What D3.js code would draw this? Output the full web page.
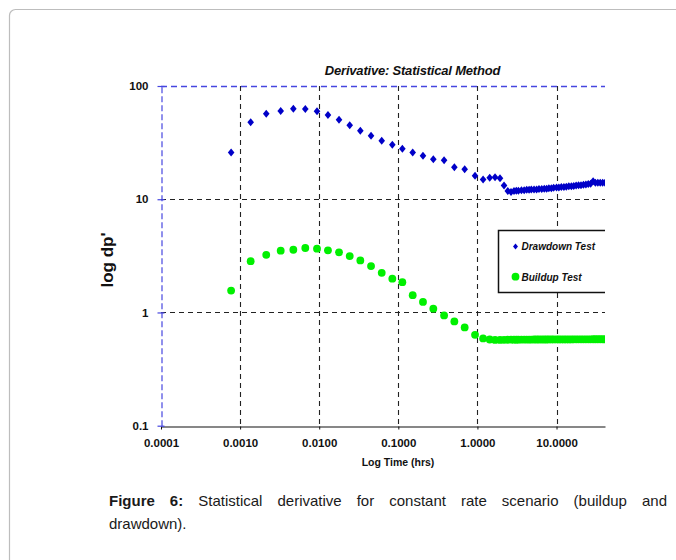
<!DOCTYPE html>
<html>
<head>
<meta charset="utf-8">
<script src="https://cdn.jsdelivr.net/npm/d3@7"></script>
<style>
  html, body { margin: 0; padding: 0; background: #fff; }
  svg { display: block; }
  text { font-family: "Liberation Sans", Arial, sans-serif; }
</style>
</head>
<body>
<svg id="chart" width="676" height="560"></svg>
<script>
// ---- data ----
const chartTitle = "Derivative: Statistical Method";
const xAxisTitle = "Log Time (hrs)";
const yAxisTitle = "log dp'";

// elapsed time (hrs) of each derivative sample
const timeHrs = [
  0.00077, 0.00136, 0.00214, 0.00326, 0.00471, 0.00667, 0.00938, 0.0129, 0.0178, 0.0243,
  0.0331, 0.0452, 0.0617, 0.084, 0.1125, 0.152, 0.205, 0.277, 0.379, 0.511,
  0.69, 0.933, 1.18, 1.43, 1.67, 1.93, 2.17, 2.42, 2.66,
  2.9, 3.1, 3.3, 3.6, 3.9, 4.2, 4.5, 4.8, 5.2, 5.6,
  6.0, 6.5, 7.0, 7.5, 8.0, 8.6, 9.2, 10, 10.7, 11.5,
  12.4, 13.3, 14.3, 15.4, 16.5, 17.7, 19, 20.4, 21.9, 23.5,
  25.2, 27, 29, 31, 33.3, 35.7, 38.3, 41
];

// pressure derivative, drawdown test
const drawdownDeriv = [
  25.9, 47.8, 56.9, 60.1, 63.0, 62.6, 59.7, 55.4, 50.4, 45.0,
  40.3, 36.4, 32.9, 30.3, 27.9, 25.9, 24.2, 22.5, 22.1, 19.2,
  18.4, 16.1, 14.9, 15.5, 15.6, 15.3, 13.2, 11.8, 11.6,
  11.8, 11.9, 11.9, 12.0, 12.0, 12.1, 12.1, 12.2, 12.2, 12.2,
  12.3, 12.3, 12.4, 12.4, 12.5, 12.5, 12.6, 12.7, 12.7, 12.8,
  12.8, 12.9, 13.0, 13.0, 13.1, 13.2, 13.3, 13.3, 13.4, 13.5,
  13.6, 13.7, 14.4, 14.0, 14.0, 14.0, 14.0, 14.0
];

// pressure derivative, buildup test
const buildupDeriv = [
  1.56, 2.84, 3.23, 3.51, 3.58, 3.71, 3.66, 3.54, 3.40, 3.15,
  2.88, 2.57, 2.24, 1.99, 1.85, 1.42, 1.24, 1.08, 0.942, 0.834,
  0.738, 0.635, 0.590, 0.577, 0.572, 0.572, 0.573, 0.574, 0.575,
  0.575, 0.575, 0.575, 0.576, 0.576, 0.576, 0.576, 0.576, 0.577, 0.577,
  0.577, 0.577, 0.577, 0.577, 0.578, 0.578, 0.578, 0.578, 0.578, 0.578,
  0.578, 0.578, 0.578, 0.578, 0.579, 0.579, 0.579, 0.579, 0.579, 0.579,
  0.579, 0.579, 0.580, 0.580, 0.580, 0.580, 0.580, 0.580
];

const xTicks = [0.0001, 0.001, 0.01, 0.1, 1, 10];
const yTicks = [0.1, 1, 10, 100];
const seriesNames = ["Drawdown Test", "Buildup Test"];

const captionLines = [
  [["Figure", true], ["6:", true], ["Statistical", false], ["derivative", false], ["for", false],
   ["constant", false], ["rate", false], ["scenario", false], ["(buildup", false], ["and", false]],
  [["drawdown).", false]]
];

// ---- layout ----
const plot = { left: 161, right: 605, top: 86, bottom: 425.7 };
const blue = "#0000c8", green = "#00f000", axisBlue = "#4646e0";

const svg = d3.select("#chart");

// outer rounded frame
svg.append("rect")
  .attr("x", 9.5).attr("y", 9.5)
  .attr("width", 720).attr("height", 600)
  .attr("rx", 6).attr("ry", 6)
  .attr("fill", "none").attr("stroke", "#bdbdbd").attr("stroke-width", 1.2);

const x = d3.scaleLog().domain([0.0001, 41]).range([plot.left, plot.right]);
const y = d3.scaleLog().domain([0.1, 100]).range([plot.bottom, plot.top]);

// clip for marks that run past the right edge
svg.append("defs").append("clipPath").attr("id", "plotClip")
  .append("rect")
  .attr("x", plot.left - 6).attr("y", plot.top - 6)
  .attr("width", plot.right - plot.left + 6).attr("height", plot.bottom - plot.top + 12);

// title
svg.append("text")
  .attr("x", 412.5).attr("y", 75)
  .attr("text-anchor", "middle")
  .attr("font-size", 13).attr("font-weight", "bold").attr("font-style", "italic")
  .attr("letter-spacing", -0.2)
  .attr("fill", "#111")
  .text(chartTitle);

// grid lines (dashed)
const grid = svg.append("g");
grid.selectAll("line.vg")
  .data(xTicks.filter(d => d > 0.0001))
  .join("line")
  .attr("x1", d => Math.round(x(d)) + 0.5).attr("x2", d => Math.round(x(d)) + 0.5)
  .attr("y1", plot.top).attr("y2", plot.bottom)
  .attr("stroke", "#222").attr("stroke-width", 1.1).attr("stroke-dasharray", "5,4");
grid.selectAll("line.hg")
  .data(yTicks.filter(d => d > 0.1 && d < 100))
  .join("line")
  .attr("x1", plot.left).attr("x2", plot.right)
  .attr("y1", d => Math.round(y(d)) + 0.5).attr("y2", d => Math.round(y(d)) + 0.5)
  .attr("stroke", "#222").attr("stroke-width", 1.1).attr("stroke-dasharray", "5,4");

// top border (blue dashed)
svg.append("line")
  .attr("x1", plot.left).attr("x2", plot.right)
  .attr("y1", Math.round(y(100)) + 0.5).attr("y2", Math.round(y(100)) + 0.5)
  .attr("stroke", axisBlue).attr("stroke-width", 1.6).attr("stroke-dasharray", "6,4");

// x axis
const xAxis = d3.axisBottom(x)
  .tickValues(xTicks)
  .tickFormat(d3.format(".4f"))
  .tickSizeInner(3).tickSizeOuter(0).tickPadding(9);
const gx = svg.append("g")
  .attr("transform", `translate(0,${Math.round(plot.bottom) + 0.5})`)
  .call(xAxis);
gx.select(".domain").attr("stroke", "#111").attr("stroke-width", 1.2);
gx.selectAll(".tick line").attr("stroke", "#111");
gx.selectAll(".tick text")
  .attr("font-family", "'Liberation Sans', Arial, sans-serif")
  .attr("font-size", 11.5).attr("font-weight", "bold").attr("fill", "#111");

// y axis (blue dashed line, ticks crossing it)
const yAxis = d3.axisLeft(y)
  .tickValues(yTicks)
  .tickFormat(d3.format("~g"))
  .tickSizeInner(4).tickSizeOuter(0).tickPadding(9);
const gy = svg.append("g")
  .attr("transform", `translate(${plot.left + 0.5},0)`)
  .call(yAxis);
gy.select(".domain").attr("stroke", axisBlue).attr("stroke-width", 1.2).attr("stroke-dasharray", "6,3");
gy.selectAll(".tick line").attr("x1", 3).attr("stroke", axisBlue).attr("stroke-width", 1.2);
gy.selectAll(".tick text")
  .attr("font-family", "'Liberation Sans', Arial, sans-serif")
  .attr("font-size", 11.5).attr("font-weight", "bold").attr("fill", "#111");

// axis titles
svg.append("text")
  .attr("x", 398).attr("y", 466)
  .attr("text-anchor", "middle")
  .attr("font-size", 10.5).attr("font-weight", "bold").attr("fill", "#111")
  .text(xAxisTitle);
svg.append("text")
  .attr("transform", "translate(112.5,260) rotate(-90)")
  .attr("text-anchor", "middle")
  .attr("font-size", 17).attr("font-weight", "bold").attr("fill", "#111")
  .text(yAxisTitle);

// legend
const leg = svg.append("g").attr("clip-path", "url(#plotClip)");
leg.append("rect")
  .attr("x", 498.5).attr("y", 230.5).attr("width", 120).attr("height", 62)
  .attr("fill", "#fff").attr("stroke", "#111").attr("stroke-width", 1.5);
const diamond = "M0,-4L3.3,0L0,4L-3.3,0Z";
leg.append("path").attr("d", diamond).attr("transform", "translate(515.5,246.5) scale(0.75)").attr("fill", blue);
leg.append("circle").attr("cx", 515.5).attr("cy", 276.7).attr("r", 3.9).attr("fill", green);
leg.selectAll("text.lg")
  .data(seriesNames)
  .join("text")
  .attr("x", 521.5)
  .attr("y", (d, i) => i === 0 ? 250 : 280.5)
  .attr("font-size", 10).attr("font-weight", "bold").attr("font-style", "italic").attr("fill", "#111")
  .text(d => d);

// data markers
const marks = svg.append("g").attr("clip-path", "url(#plotClip)");
marks.selectAll("circle.bu")
  .data(timeHrs.map((t, i) => [t, buildupDeriv[i]]))
  .join("circle")
  .attr("cx", d => x(d[0])).attr("cy", d => y(d[1]))
  .attr("r", 3.9).attr("fill", green);
marks.selectAll("path.dd")
  .data(timeHrs.map((t, i) => [t, drawdownDeriv[i]]))
  .join("path")
  .attr("d", diamond)
  .attr("transform", d => `translate(${x(d[0])},${y(d[1])})`)
  .attr("fill", blue);

// caption, justified across the first line
const cap = svg.append("g").attr("font-size", 15).attr("fill", "#1a1a1a");
const capLeft = 109, capRight = 667, capBase = [506, 529];
captionLines.forEach((words, li) => {
  const nodes = words.map(([w, b]) =>
    cap.append("text").attr("y", capBase[li]).attr("font-weight", b ? "bold" : "normal").text(w));
  const widths = nodes.map(n => n.node().getComputedTextLength());
  const isLast = li === captionLines.length - 1;
  const total = d3.sum(widths);
  const gap = (!isLast && words.length > 1)
    ? (capRight - capLeft - total) / (words.length - 1)
    : 4.2;
  let cx = capLeft;
  nodes.forEach((n, i) => { n.attr("x", cx); cx += widths[i] + gap; });
});
</script>
</body>
</html>
